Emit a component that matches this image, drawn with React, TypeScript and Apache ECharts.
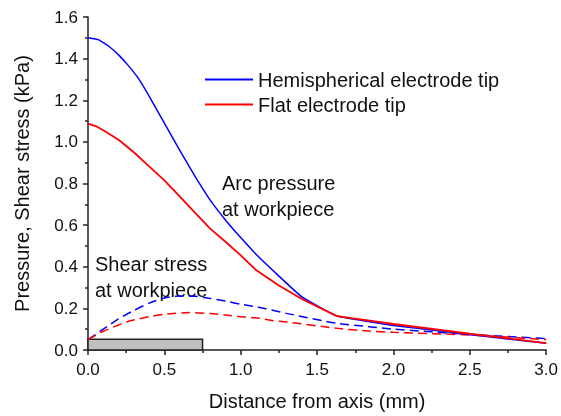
import React, { useEffect, useRef } from "react";
import * as echarts from "echarts";

// Arc pressure, hemispherical electrode tip (solid blue)
const hemiX = [0, 0.07, 0.14, 0.2, 0.26, 0.33, 0.4, 0.5, 0.6, 0.7, 0.8, 0.9, 1.0, 1.1, 1.25, 1.4, 1.63, 2.0, 2.5, 3.0];
const hemiP = [1.5, 1.49, 1.457, 1.418, 1.37, 1.305, 1.22, 1.09, 0.96, 0.835, 0.72, 0.625, 0.54, 0.46, 0.355, 0.255, 0.163, 0.118, 0.074, 0.032];
// Arc pressure, flat electrode tip (solid red)
const flatX = [0, 0.05, 0.1, 0.2, 0.3, 0.4, 0.5, 0.6, 0.7, 0.8, 0.9, 1.0, 1.1, 1.25, 1.4, 1.63, 2.0, 2.5, 3.0];
const flatP = [1.088, 1.076, 1.056, 1.01, 0.95, 0.882, 0.815, 0.738, 0.66, 0.583, 0.52, 0.455, 0.384, 0.31, 0.245, 0.163, 0.125, 0.078, 0.033];
// Shear stress, hemispherical (dashed blue)
const hemiSX = [0, 0.1, 0.2, 0.3, 0.4, 0.5, 0.6, 0.7, 0.8, 0.9, 1.0, 1.1, 1.3, 1.63, 1.84, 2.0, 2.5, 2.75, 3.0];
const hemiS = [0.05, 0.1, 0.15, 0.19, 0.225, 0.25, 0.26, 0.258, 0.248, 0.235, 0.22, 0.208, 0.176, 0.128, 0.112, 0.1, 0.075, 0.065, 0.055];
// Shear stress, flat (dashed red)
const flatSX = [0, 0.1, 0.2, 0.27, 0.4, 0.5, 0.665, 0.8, 0.9, 1.0, 1.12, 1.2, 1.3, 1.63, 1.84, 2.0, 2.5, 3.0];
const flatS = [0.05, 0.09, 0.12, 0.139, 0.16, 0.172, 0.18, 0.175, 0.168, 0.16, 0.153, 0.142, 0.135, 0.104, 0.091, 0.085, 0.072, 0.05];

// Electrode / workpiece block
const blockX = [0, 0.75];
const blockY = [0, 0.052];

const legendNames = ["Hemispherical electrode tip", "Flat electrode tip"];
const xTitle = "Distance from axis (mm)";
const yTitle = "Pressure, Shear stress (kPa)";
const arcLabel = "Arc pressure\nat workpiece";
const shearLabel = "Shear stress\nat workpiece";

const pairs = (xs: number[], ys: number[]) => xs.map((x, i) => [x, ys[i]]);

const FONT = "'Liberation Sans', Arial, sans-serif";

export default function App() {
  const ref = useRef<HTMLDivElement>(null);
  useEffect(() => {
    if (!ref.current) return;
    const chart = echarts.init(ref.current, undefined, { renderer: "svg" });
    const axisCommon = {
      axisLine: { show: true, lineStyle: { color: "#222", width: 1.5 } },
      axisTick: { show: true, inside: false, length: 5, lineStyle: { color: "#222", width: 1.5 } },
      minorTick: { show: true, splitNumber: 2, length: 3, lineStyle: { color: "#222", width: 1.5 } },
      splitLine: { show: false },
      nameTextStyle: { fontFamily: FONT, fontSize: 20, color: "#111" },
    };
    chart.setOption({
      animation: false,
      textStyle: { fontFamily: FONT },
      grid: { left: 88, right: 13, top: 17, bottom: 64, containLabel: false },
      legend: {
        data: legendNames.map((n) => ({ name: n, icon: "rect" })),
        orient: "vertical",
        left: 200,
        top: 63,
        itemWidth: 48,
        itemHeight: 2,
        itemGap: 2,
        textStyle: { fontFamily: FONT, fontSize: 20, color: "#111", lineHeight: 23 },
      },
      xAxis: {
        type: "value",
        min: 0,
        max: 3,
        interval: 0.5,
        name: xTitle,
        nameLocation: "middle",
        nameGap: 41,
        ...axisCommon,
        axisLabel: { fontFamily: FONT, fontSize: 17, color: "#111", margin: 11, formatter: (v: number) => v.toFixed(1) },
      },
      yAxis: {
        type: "value",
        min: 0,
        max: 1.6,
        interval: 0.2,
        name: yTitle,
        nameLocation: "middle",
        nameGap: 56,
        ...axisCommon,
        axisLabel: { fontFamily: FONT, fontSize: 17, color: "#111", margin: 10, formatter: (v: number) => v.toFixed(1) },
      },
      series: [
        {
          name: "block",
          type: "line",
          data: [],
          markArea: {
            silent: true,
            itemStyle: { color: "#c0c0c0", borderColor: "#222", borderWidth: 1.5 },
            data: [[{ coord: [blockX[0], blockY[0]] }, { coord: [blockX[1], blockY[1]] }]],
          },
        },
        {
          name: "Hemispherical shear",
          type: "line",
          data: pairs(hemiSX, hemiS),
          symbol: "none",
          smooth: 0.2,
          lineStyle: { color: "#0000ff", width: 1.5, type: [9, 5] },
          itemStyle: { color: "#0000ff" },
        },
        {
          name: "Flat shear",
          type: "line",
          data: pairs(flatSX, flatS),
          symbol: "none",
          smooth: 0.2,
          lineStyle: { color: "#ff0000", width: 1.5, type: [9, 5] },
          itemStyle: { color: "#ff0000" },
        },
        {
          name: legendNames[0],
          type: "line",
          data: pairs(hemiX, hemiP),
          symbol: "none",
          smooth: 0.1,
          lineStyle: { color: "#0000ff", width: 1.5 },
          itemStyle: { color: "#0000ff" },
        },
        {
          name: legendNames[1],
          type: "line",
          data: pairs(flatX, flatP),
          symbol: "none",
          lineStyle: { color: "#ff0000", width: 1.8 },
          itemStyle: { color: "#ff0000" },
        },
      ],
      graphic: [
        {
          type: "text",
          left: 222,
          top: 170,
          style: { text: arcLabel, fontFamily: FONT, fontSize: 20, lineHeight: 26, fill: "#111" },
        },
        {
          type: "text",
          left: 95,
          top: 251,
          style: { text: shearLabel, fontFamily: FONT, fontSize: 20, lineHeight: 26, fill: "#111" },
        },
      ],
    });
    return () => chart.dispose();
  }, []);
  return <div ref={ref} style={{ position: "fixed", left: 0, top: 0, width: 561, height: 416 }} />;
}
